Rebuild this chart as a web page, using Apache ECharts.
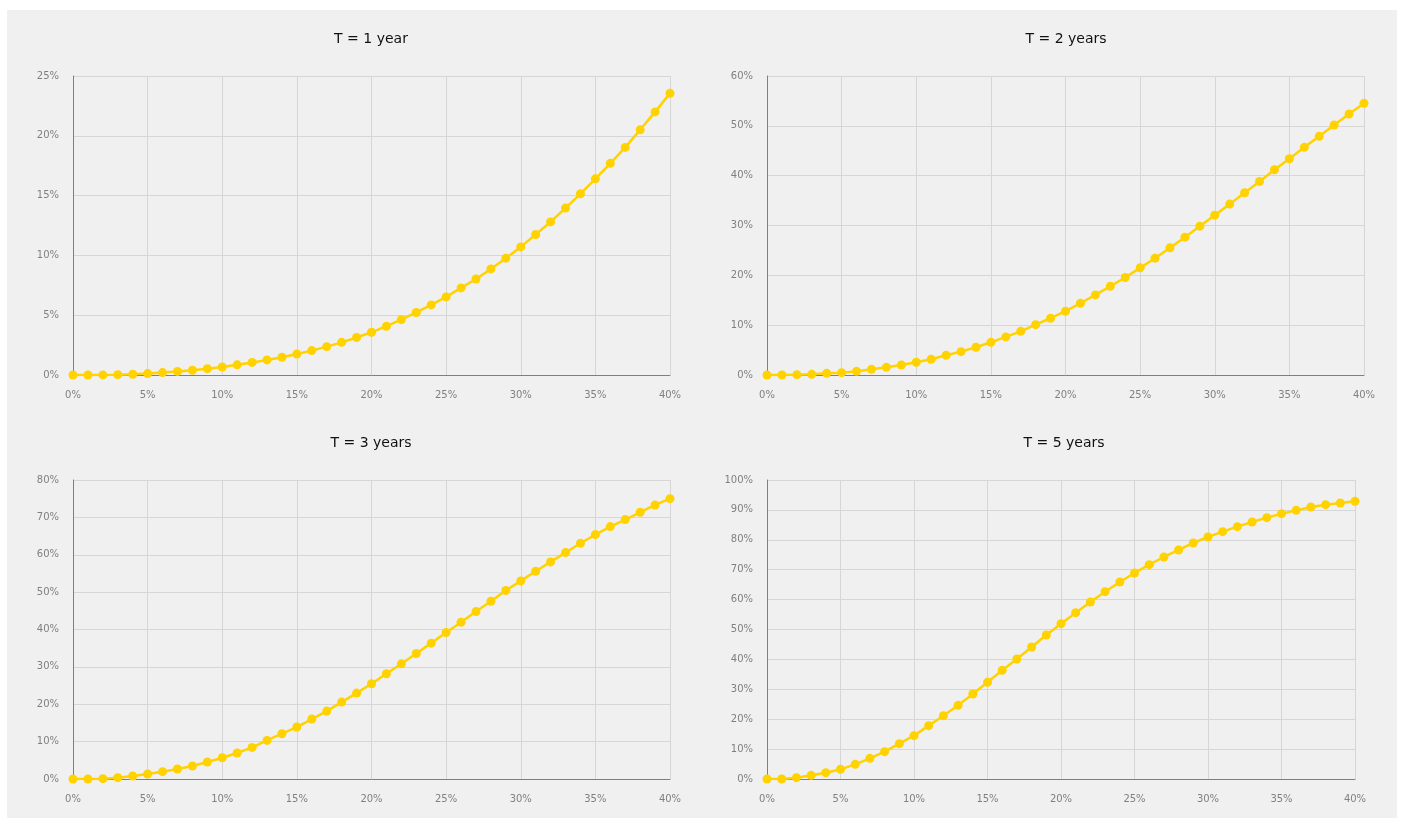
<!DOCTYPE html>
<html>
<head>
<meta charset="utf-8">
<script src="https://cdn.jsdelivr.net/npm/echarts@6/dist/echarts.min.js"></script>
<style>
  html, body { margin: 0; padding: 0; background: #ffffff; }
  #bg { position: absolute; left: 7px; top: 10px; width: 1390px; height: 808px; background: #f0f0f0; }
  #chart { position: absolute; left: 0; top: 0; width: 1402px; height: 824px; }
</style>
</head>
<body>
<div id="bg"></div>
<div id="chart"></div>
<script>
// Rate (x axis, %)
const rates = [0,1,2,3,4,5,6,7,8,9,10,11,12,13,14,15,16,17,18,19,20,21,22,23,24,25,26,27,28,29,30,31,32,33,34,35,36,37,38,39,40];

// Panel titles
const titles = ['T = 1 year', 'T = 2 years', 'T = 3 years', 'T = 5 years'];

// Series values (%)
const t1 = [0,0,0.01,0.03,0.06,0.12,0.2,0.3,0.4,0.53,0.67,0.85,1.05,1.26,1.48,1.76,2.04,2.37,2.73,3.14,3.57,4.08,4.63,5.23,5.86,6.53,7.28,8.03,8.87,9.77,10.71,11.75,12.8,13.96,15.15,16.4,17.7,19.03,20.5,22.0,23.55];
const t2 = [0,0,0.07,0.13,0.33,0.47,0.74,1.14,1.54,2.0,2.55,3.15,3.95,4.69,5.56,6.56,7.64,8.77,10.1,11.39,12.8,14.4,16.07,17.8,19.56,21.5,23.44,25.52,27.66,29.87,32.08,34.29,36.57,38.85,41.19,43.4,45.68,47.89,50.17,52.38,54.52];
const t3 = [0,0,0.09,0.36,0.8,1.34,1.96,2.67,3.47,4.54,5.7,6.95,8.46,10.33,12.12,13.9,16.04,18.17,20.58,22.98,25.48,28.15,30.82,33.59,36.35,39.2,41.96,44.8,47.57,50.42,53.0,55.59,58.08,60.58,63.07,65.39,67.53,69.4,71.36,73.32,75.01];
const t5 = [0,0,0.45,1.23,2.12,3.23,4.9,6.91,9.14,11.82,14.5,17.84,21.18,24.64,28.43,32.33,36.34,40.13,44.15,48.16,51.95,55.63,59.2,62.65,65.89,68.9,71.68,74.25,76.59,78.93,80.94,82.72,84.39,85.95,87.4,88.74,89.85,90.97,91.75,92.31,92.87];

// Y axis maxima / intervals per panel
const yMax = [25, 60, 80, 100];
const yStep = [5, 10, 10, 10];
// X axis range
const xMin = 0, xMax = 40, xStep = 5;

const seriesData = [t1, t2, t3, t5];

const grids = [
  { left: 73, top: 76, width: 597, height: 299 },
  { left: 767, top: 76, width: 597, height: 299 },
  { left: 73, top: 480, width: 597, height: 299 },
  { left: 767, top: 480, width: 588, height: 299 }
];
const titleTops = [32, 32, 436, 436];
const titleCenters = [371, 1066, 371, 1064];

const FONT = 'DejaVu Sans';
const labelColor = '#808080';
const gridColor = '#d6d6d6';
const axisColor = '#7f7f7f';
const lineColor = '#ffd200';

const option = {
  backgroundColor: 'transparent',
  animation: false,
  title: titles.map((t, i) => ({
    text: t,
    left: titleCenters[i],
    top: titleTops[i],
    padding: 0,
    textAlign: 'center',
    textStyle: { fontFamily: FONT, fontSize: 14, fontWeight: 'normal', color: '#111111' }
  })),
  grid: grids.map(g => Object.assign({ containLabel: false }, g)),
  xAxis: grids.map((g, i) => ({
    type: 'value',
    gridIndex: i,
    min: xMin, max: xMax, interval: xStep,
    axisLine: { show: true, onZero: false, lineStyle: { color: axisColor, width: 1 } },
    axisTick: { show: false },
    axisLabel: { fontFamily: FONT, fontSize: 10, color: labelColor, margin: 15, formatter: '{value}%' },
    splitLine: { show: true, lineStyle: { color: gridColor, width: 1 } }
  })),
  yAxis: grids.map((g, i) => ({
    type: 'value',
    gridIndex: i,
    min: 0, max: yMax[i], interval: yStep[i],
    axisLine: { show: true, lineStyle: { color: axisColor, width: 1 } },
    axisTick: { show: false },
    axisLabel: { fontFamily: FONT, fontSize: 10, color: labelColor, margin: 14, formatter: '{value}%' },
    splitLine: { show: true, lineStyle: { color: gridColor, width: 1 } }
  })),
  series: seriesData.map((vals, i) => ({
    type: 'line',
    xAxisIndex: i,
    yAxisIndex: i,
    data: rates.map((r, k) => [r, vals[k]]),
    symbol: 'circle',
    symbolSize: 9,
    showSymbol: true,
    itemStyle: { color: lineColor },
    lineStyle: { color: lineColor, width: 2.5 },
    z: 5
  }))
};

const chart = echarts.init(document.getElementById('chart'), null, { renderer: 'canvas' });
chart.setOption(option);
</script>
</body>
</html>
